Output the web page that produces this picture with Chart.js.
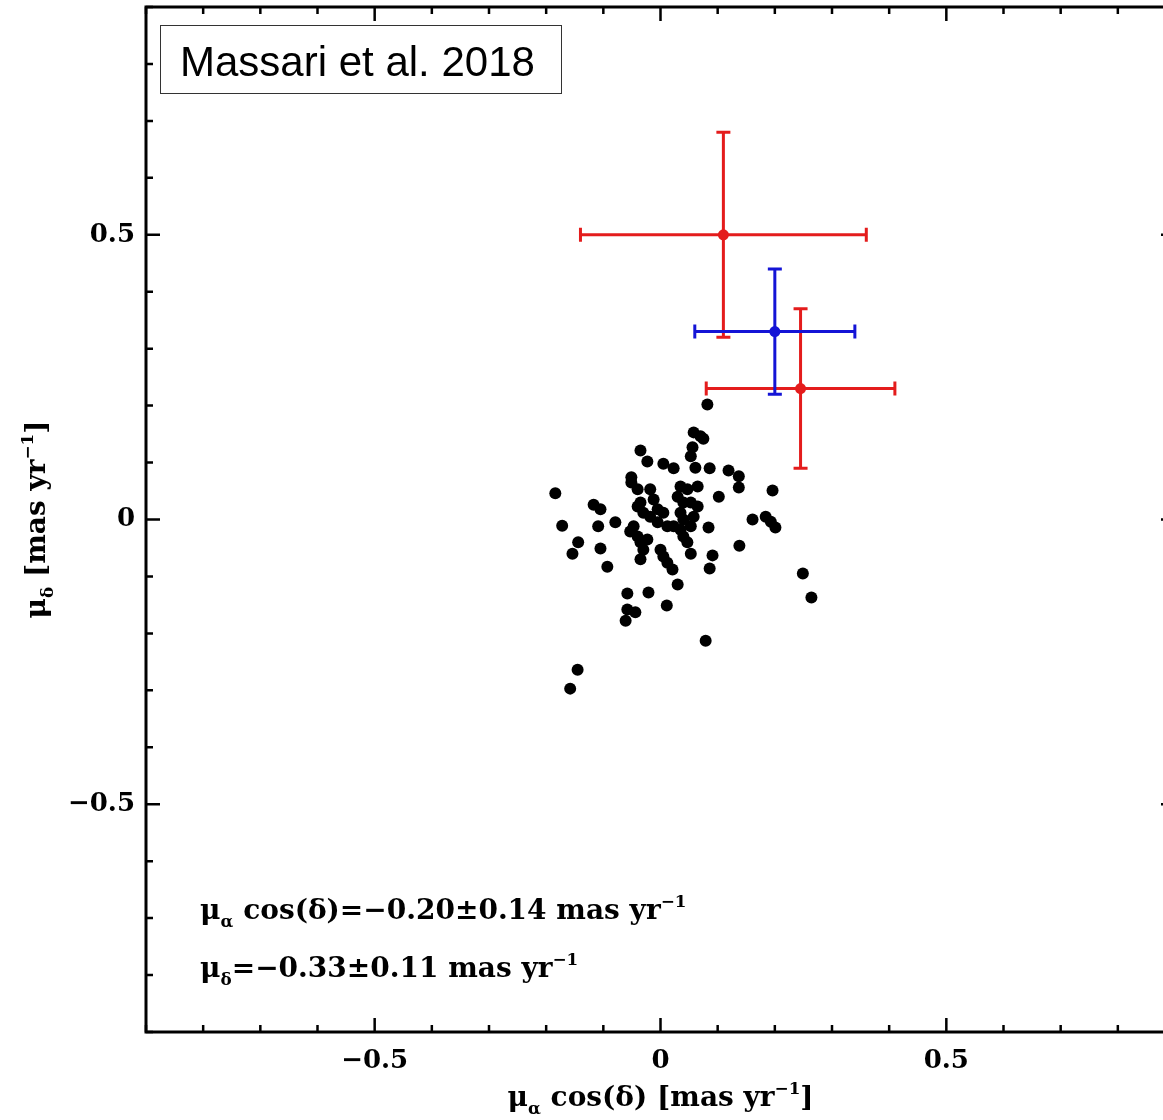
<!DOCTYPE html>
<html lang="en">
<head>
  <meta charset="UTF-8">
  <title>Proper motion - Massari et al. 2018</title>
  <script src="https://cdn.jsdelivr.net/npm/chart.js"></script>
  <style>
    body {
      margin: 0;
      background: #ffffff;
      overflow: hidden;
    }
    .wrap {
      width: 1181px;
      height: 1120px;
    }
  </style>
</head>
<body>
  <div class="wrap">
    <canvas id="pmChart" width="1181" height="1120"></canvas>
  </div>

  <script>
    // member stars (black dots)
    const starX = [0.082, 0.058, 0.070, 0.075, 0.056, 0.053, -0.035, -0.023, 0.005, 0.023,
      0.061, 0.086, 0.119, 0.137, 0.137, 0.196, -0.051, -0.051, -0.184, 0.102,
      -0.117, -0.105, -0.172, -0.109, -0.079, 0.161, 0.184, 0.193, 0.201, 0.084,
      -0.144, -0.154, -0.105, -0.093, 0.138, 0.053, 0.091, 0.086, 0.030, -0.058,
      -0.021, 0.011, -0.058, -0.044, -0.061, 0.079, 0.249, 0.264, -0.145, -0.158,
      -0.047, -0.040, -0.035, -0.030, -0.035, -0.053, -0.023, 0.000, 0.005, 0.012,
      0.021, 0.023, 0.035, 0.040, 0.047, -0.018, -0.012, -0.035, -0.040, -0.030,
      -0.005, 0.005, 0.035, 0.047, 0.065, 0.030, 0.040, 0.053, 0.065, 0.035,
      0.058, 0.040, 0.053, -0.005, -0.018, 0.012, -0.040];
    const starY = [0.202, 0.153, 0.146, 0.142, 0.127, 0.111, 0.121, 0.102, 0.098, 0.090,
      0.091, 0.090, 0.086, 0.076, 0.056, 0.051, 0.074, 0.065, 0.046, 0.040,
      0.026, 0.018, -0.011, -0.012, -0.005, 0.000, 0.005, -0.004, -0.014, -0.014,
      -0.040, -0.060, -0.051, -0.083, -0.046, -0.060, -0.063, -0.086, -0.114, -0.130,
      -0.128, -0.151, -0.158, -0.163, -0.178, -0.213, -0.095, -0.137, -0.264, -0.297,
      -0.012, -0.030, -0.040, -0.053, -0.070, -0.021, -0.035, -0.053, -0.065, -0.076,
      -0.088, -0.012, -0.018, -0.030, -0.040, 0.053, 0.035, 0.030, 0.023, 0.012,
      0.018, 0.012, 0.058, 0.053, 0.058, 0.040, 0.030, 0.030, 0.023, 0.012,
      0.005, 0.000, -0.012, -0.005, 0.005, -0.012, 0.053];

    // literature measurements with error bars
    const redX = [0.11, 0.245];
    const redY = [0.50, 0.23];
    const redErrX = [0.25, 0.165];
    const redErrY = [0.18, 0.14];

    const blueX = [0.20];
    const blueY = [0.33];
    const blueErrX = [0.14];
    const blueErrY = [0.11];

    const axisMin = -0.9;
    const axisMax = 0.9;
    const tickValues = [-0.5, 0, 0.5];

    const RED = '#e41c1c';
    const BLUE = '#1414d6';

    function toPoints(xs, ys) {
      return xs.map((x, i) => ({ x: x, y: ys[i] }));
    }

    function fmtTick(v) {
      if (Math.abs(v) < 1e-9) return '0';
      return v.toFixed(1).replace('-', '\u2212');
    }

    // text made of normal / sub / sup pieces
    function richWidth(ctx, parts, size) {
      let w = 0;
      parts.forEach(p => {
        const s = p.sub || p.sup ? size * 0.6 : size;
        ctx.font = 'bold ' + s + 'px "DejaVu Serif", serif';
        w += ctx.measureText(p.t).width;
      });
      return w;
    }

    function drawRich(ctx, parts, x, y, size, align) {
      let cx = align === 'center' ? x - richWidth(ctx, parts, size) / 2 : x;
      ctx.textAlign = 'left';
      ctx.textBaseline = 'alphabetic';
      parts.forEach(p => {
        const s = p.sub || p.sup ? size * 0.6 : size;
        ctx.font = 'bold ' + s + 'px "DejaVu Serif", serif';
        let dy = 0;
        if (p.sub) dy = size * 0.28;
        if (p.sup) dy = -size * 0.42;
        ctx.fillText(p.t, cx, y + dy);
        cx += ctx.measureText(p.t).width;
      });
    }

    const errorBars = {
      id: 'errorBars',
      beforeDatasetsDraw(chart) {
        const ctx = chart.ctx;
        const xs = chart.scales.x, ys = chart.scales.y;
        chart.data.datasets.forEach(ds => {
          if (!ds.errX) return;
          ds.data.forEach((p, i) => {
            const px = xs.getPixelForValue(p.x);
            const py = ys.getPixelForValue(p.y);
            const x0 = xs.getPixelForValue(p.x - ds.errX[i]);
            const x1 = xs.getPixelForValue(p.x + ds.errX[i]);
            const y0 = ys.getPixelForValue(p.y - ds.errY[i]);
            const y1 = ys.getPixelForValue(p.y + ds.errY[i]);
            const cap = 7;
            ctx.save();
            ctx.strokeStyle = ds.backgroundColor;
            ctx.lineWidth = 3;
            ctx.beginPath();
            ctx.moveTo(x0, py); ctx.lineTo(x1, py);
            ctx.moveTo(px, y0); ctx.lineTo(px, y1);
            ctx.moveTo(x0, py - cap); ctx.lineTo(x0, py + cap);
            ctx.moveTo(x1, py - cap); ctx.lineTo(x1, py + cap);
            ctx.moveTo(px - cap, y0); ctx.lineTo(px + cap, y0);
            ctx.moveTo(px - cap, y1); ctx.lineTo(px + cap, y1);
            ctx.stroke();
            ctx.restore();
          });
        });
      }
    };

    const frame = {
      id: 'frame',
      afterDraw(chart) {
        const ctx = chart.ctx;
        const a = chart.chartArea;
        const xs = chart.scales.x, ys = chart.scales.y;
        ctx.save();
        ctx.strokeStyle = '#000';
        ctx.lineWidth = 3;
        ctx.strokeRect(a.left, a.top, a.right - a.left, a.bottom - a.top);

        // inward ticks on all four sides
        ctx.lineWidth = 2.5;
        ctx.beginPath();
        for (let k = -9; k <= 9; k++) {
          const v = k / 10;
          const len = k % 5 === 0 ? 14 : 7;
          const px = xs.getPixelForValue(v);
          const py = ys.getPixelForValue(v);
          ctx.moveTo(px, a.bottom); ctx.lineTo(px, a.bottom - len);
          ctx.moveTo(px, a.top); ctx.lineTo(px, a.top + len);
          ctx.moveTo(a.left, py); ctx.lineTo(a.left + len, py);
          ctx.moveTo(a.right, py); ctx.lineTo(a.right - len, py);
        }
        ctx.stroke();

        // reference box
        ctx.fillStyle = '#fff';
        ctx.fillRect(a.left + 14, a.top + 18, 401, 68);
        ctx.strokeStyle = '#333';
        ctx.lineWidth = 1;
        ctx.strokeRect(a.left + 14.5, a.top + 18.5, 401, 68);
        ctx.fillStyle = '#000';
        ctx.font = '42px "Liberation Sans", Arial, sans-serif';
        ctx.textAlign = 'left';
        ctx.textBaseline = 'alphabetic';
        ctx.fillText('Massari et al. 2018', a.left + 34, a.top + 69);

        // axis titles
        drawRich(ctx, [
          { t: '\u03bc' }, { t: '\u03b1', sub: true },
          { t: ' cos(\u03b4) [mas yr' }, { t: '\u22121', sup: true }, { t: ']' }
        ], xs.getPixelForValue(0), 1106, 28, 'center');

        ctx.save();
        ctx.translate(45, ys.getPixelForValue(0));
        ctx.rotate(-Math.PI / 2);
        drawRich(ctx, [
          { t: '\u03bc' }, { t: '\u03b4', sub: true },
          { t: ' [mas yr' }, { t: '\u22121', sup: true }, { t: ']' }
        ], 0, 0, 28, 'center');
        ctx.restore();

        // mean motion text
        drawRich(ctx, [
          { t: '\u03bc' }, { t: '\u03b1', sub: true },
          { t: ' cos(\u03b4)=\u22120.20\u00b10.14 mas yr' }, { t: '\u22121', sup: true }
        ], 200, 919, 28, 'left');
        drawRich(ctx, [
          { t: '\u03bc' }, { t: '\u03b4', sub: true },
          { t: '=\u22120.33\u00b10.11 mas yr' }, { t: '\u22121', sup: true }
        ], 200, 977, 28, 'left');
        ctx.restore();
      }
    };

    new Chart(document.getElementById('pmChart'), {
      type: 'scatter',
      data: {
        datasets: [
          {
            label: 'stars',
            data: toPoints(starX, starY),
            backgroundColor: '#000',
            borderColor: '#000',
            pointRadius: 6,
            borderWidth: 0
          },
          {
            label: 'red',
            data: toPoints(redX, redY),
            errX: redErrX,
            errY: redErrY,
            backgroundColor: RED,
            borderColor: RED,
            pointRadius: 5.5,
            borderWidth: 0
          },
          {
            label: 'blue',
            data: toPoints(blueX, blueY),
            errX: blueErrX,
            errY: blueErrY,
            backgroundColor: BLUE,
            borderColor: BLUE,
            pointRadius: 5.5,
            borderWidth: 0
          }
        ]
      },
      options: {
        responsive: false,
        animation: false,
        layout: { padding: { top: 7, right: 1, left: 0, bottom: 0 } },
        plugins: {
          legend: { display: false },
          tooltip: { enabled: false }
        },
        scales: {
          x: {
            type: 'linear',
            min: axisMin,
            max: axisMax,
            grid: { display: false, drawTicks: false },
            border: { display: false },
            afterBuildTicks: s => { s.ticks = tickValues.map(v => ({ value: v })); },
            afterFit: s => { s.height = 88; s.paddingLeft = 0; s.paddingRight = 0; },
            ticks: {
              padding: 14,
              color: '#000',
              font: { family: '"DejaVu Serif", serif', size: 26, weight: 'bold' },
              callback: v => fmtTick(v)
            }
          },
          y: {
            type: 'linear',
            min: axisMin,
            max: axisMax,
            grid: { display: false, drawTicks: false },
            border: { display: false },
            afterBuildTicks: s => { s.ticks = tickValues.map(v => ({ value: v })); },
            afterFit: s => { s.width = 146; s.paddingTop = 0; s.paddingBottom = 0; },
            ticks: {
              padding: 11,
              color: '#000',
              font: { family: '"DejaVu Serif", serif', size: 26, weight: 'bold' },
              callback: v => fmtTick(v)
            }
          }
        }
      },
      plugins: [errorBars, frame]
    });
  </script>
</body>
</html>
